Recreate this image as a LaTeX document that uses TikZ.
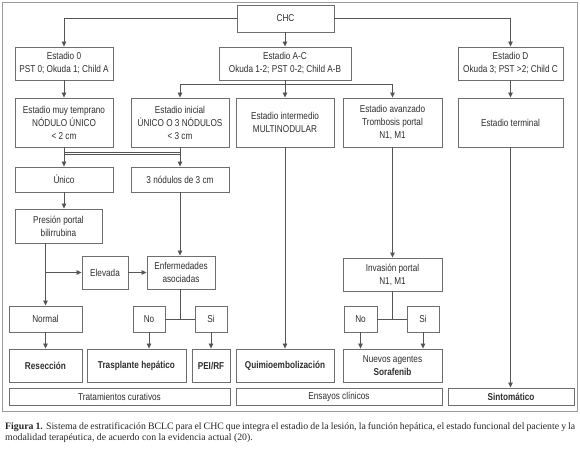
\documentclass[tikz,border=0pt]{standalone}
\usepackage{fontspec}
\setmainfont{Liberation Sans}[FakeStretch=0.82]
\newfontfamily\capfont{Liberation Serif}
\usetikzlibrary{arrows.meta}
\definecolor{txt}{HTML}{2E2E2E}
\definecolor{bord}{HTML}{6E6E6E}
\definecolor{lin}{HTML}{555555}
\definecolor{frame}{HTML}{9A9A9A}
\tikzset{
  box/.style={draw=bord, line width=0.9pt, text=txt, align=center, inner sep=1pt,
    font=\fontsize{10}{13}\selectfont},
  bbox/.style={box, font=\fontsize{10}{13}\selectfont\bfseries},
  conn/.style={draw=lin, line width=0.8pt},
  arr/.style={conn, -{Triangle[length=5pt,width=4.5pt]}},
}
\begin{document}
\begin{tikzpicture}[x=1pt,y=-1pt]
\useasboundingbox (0,0) rectangle (580,448);
\draw[frame, line width=0.9pt] (2,2) rectangle (577,411);
% row 0
\node[box, minimum width=97, minimum height=27] (chc) at (285.5,18.5) {CHC};
% row 1
\node[box, minimum width=98, minimum height=33] (e0) at (64,63.5) {Estadio 0\\PST 0; Okuda 1; Child A};
\node[box, minimum width=132, minimum height=33] (eac) at (285,63.5) {Estadio A-C\\Okuda 1-2; PST 0-2; Child A-B};
\node[box, minimum width=105, minimum height=33] (ed) at (510.5,63.5) {Estadio D\\Okuda 3; PST >2; Child C};
% row 2
\node[box, minimum width=98, minimum height=49] (mt) at (64,122.5) {Estadio muy temprano\\NÓDULO ÚNICO\\< 2 cm};
\node[box, minimum width=98, minimum height=49] (ini) at (180,122.5) {Estadio inicial\\ÚNICO O 3 NÓDULOS\\< 3 cm};
\node[box, minimum width=98, minimum height=49] (int) at (285,122.5) {Estadio intermedio\\MULTINODULAR};
\node[box, minimum width=99, minimum height=49] (ava) at (392.5,122.5) {Estadio avanzado\\Trombosis portal\\N1, M1};
\node[box, minimum width=105, minimum height=49] (ter) at (510.5,122.5) {Estadio terminal};
% row 3
\node[box, minimum width=98, minimum height=25] (uni) at (64,179.5) {Único};
\node[box, minimum width=98, minimum height=25] (tres) at (180,179.5) {3 nódulos de 3 cm};
% row 4
\node[box, minimum width=87, minimum height=34] (pres) at (58.5,226) {Presión portal\\bilirrubina};
\node[box, minimum width=46, minimum height=33] (elev) at (105,272.5) {Elevada};
\node[box, minimum width=68, minimum height=33] (enf) at (181,272.5) {Enfermedades\\asociadas};
\node[box, minimum width=99, minimum height=33] (inv) at (392.5,274.5) {Invasión portal\\N1, M1};
% row 5
\node[box, minimum width=73, minimum height=26] (norm) at (45.5,319) {Normal};
\node[box, minimum width=32, minimum height=26] (no1) at (149,319) {No};
\node[box, minimum width=32, minimum height=26] (si1) at (211,319) {Si};
\node[box, minimum width=33, minimum height=26] (no2) at (360.5,319) {No};
\node[box, minimum width=32, minimum height=26] (si2) at (423,319) {Si};
% row 6
\node[bbox, minimum width=73, minimum height=33] (res) at (45.5,365.5) {Resección};
\node[bbox, minimum width=99, minimum height=33] (tras) at (136.5,365.5) {Trasplante hepático};
\node[bbox, minimum width=38, minimum height=33] (pei) at (211,365.5) {PEI/RF};
\node[bbox, minimum width=98, minimum height=33] (qui) at (285,365.5) {Quimioembolización};
\node[box, minimum width=99, minimum height=33] (nue) at (392.5,365.5) {Nuevos agentes\\\textbf{Sorafenib}};
% row 7
\node[box, minimum width=221, minimum height=17] (trat) at (119.5,396.5) {Tratamientos curativos};
\node[box, minimum width=206, minimum height=17] (ens) at (339,396.5) {Ensayos clínicos};
\node[bbox, minimum width=126, minimum height=17] (sin) at (511,396.5) {Sintomático};
% connectors
\draw[arr] (chc.west) -| (e0.north);
\draw[arr] (eac.north |- chc.south) -- (eac.north);
\draw[arr] (chc.east) -| (ed.north);
\draw[arr] (e0.south) -- (mt.north);
\draw[arr] (eac.south) -- (int.north);
\coordinate (j1) at (285,84);
\draw[arr] (j1) -| (ini.north);
\draw[arr] (j1) -| (ava.north);
\draw[arr] (ed.south) -- (ter.north);
\coordinate (h1) at (0,152);
\coordinate (h2) at (0,154.5);
\draw[arr] (mt.south) -- (uni.north);
\draw[arr] (ini.south) -- (tres.north);
\draw[conn] (mt.south |- h1) -- (ini.south |- h1);
\draw[conn] (mt.south |- h2) -- (ini.south |- h2);
\draw[arr] (uni.south) -- (uni.south |- pres.north);
\draw[arr] (tres.south) -- (tres.south |- enf.north);
\draw[arr] (norm.north |- pres.south) -- (norm.north);
\draw[arr] (norm.north |- elev.west) -- (elev.west);
\draw[arr] (elev.east) -- (enf.west);
\draw[conn] (tres.south |- enf.south) -- (tres.south |- no1.east);
\draw[conn] (no1.east) -- (si1.west);
\draw[arr] (no1.south) -- (no1.south |- tras.north);
\draw[arr] (si1.south) -- (pei.north);
\draw[arr] (norm.south) -- (res.north);
\draw[arr] (int.south) -- (qui.north);
\draw[arr] (ava.south) -- (inv.north);
\draw[conn] (inv.south) -- (inv.south |- no2.east);
\draw[conn] (no2.east) -- (si2.west);
\draw[arr] (no2.south) -- (no2.south |- nue.north);
\draw[arr] (si2.south) -- (si2.south |- nue.north);
\draw[arr] (ter.south) -- (ter.south |- sin.north);
% caption
\node[anchor=north west, inner sep=0, text=black!85, align=left,
  font=\capfont\fontsize{9.8}{11.5}\selectfont] (cap) at (5,422)
  {\hbox to 570pt{\textbf{Figura 1.} Sistema de estratificación BCLC para el CHC que integra el estadio de la lesión, la función hepática, el estado funcional del paciente y la}\\
   modalidad terapéutica, de acuerdo con la evidencia actual (20).};
\end{tikzpicture}
\end{document}
